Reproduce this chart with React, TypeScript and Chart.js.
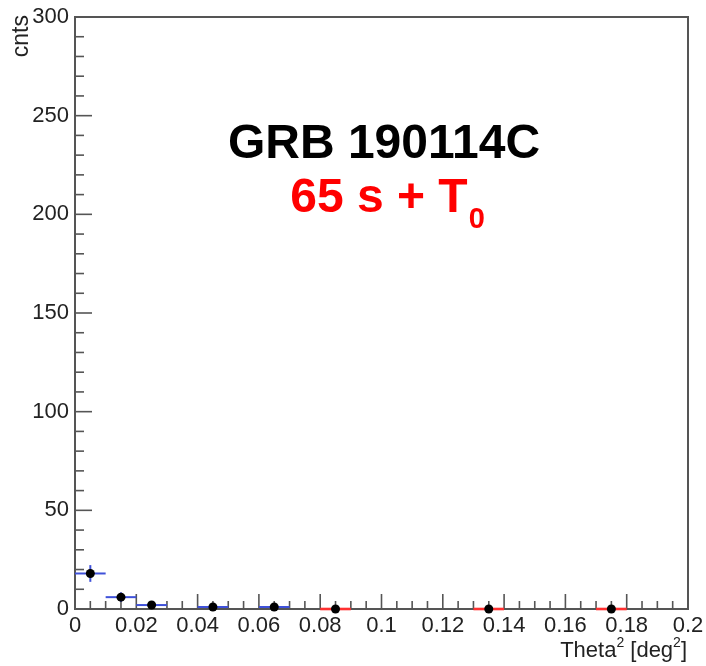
import React, { useEffect, useRef } from "react";
import { Chart, registerables } from "chart.js";

Chart.register(...registerables);

// Theta^2 bins (centres), half bin width 0.005 deg^2
const binCenters = [0.005, 0.015, 0.025, 0.045, 0.065, 0.085, 0.135, 0.175];
const binHalfWidth = 0.005;
const counts = [18, 6, 2, 1, 1, 0, 0, 0];
const countErrors = [4.24, 2.45, 1.41, 1, 1, 0, 0, 0];
const barColors = ["blue", "blue", "blue", "blue", "blue", "red", "red", "red"];

const xTickMajor = 0.02;
const xTickMinor = 0.005;
const yTickMajor = 50;
const yTickMinor = 10;
const xRange = [0, 0.2];
const yRange = [0, 300];

const titleText = "GRB 190114C";
const subtitleText = "65 s + T";
const subtitleSub = "0";
const xTitleMain = "Theta";
const xTitleUnit = " [deg";
const yTitle = "cnts";

const FONT = "'Liberation Sans', Arial, Helvetica, sans-serif";
const COLOR_MAP: Record<string, string> = { blue: "#3f51d9", red: "#ff3030" };

const framePlugin = {
  id: "rootFrame",
  beforeDatasetsDraw(chart: any) {
    const ctx = chart.ctx;
    const xs = chart.scales.x;
    const ys = chart.scales.y;
    const { left, right, top, bottom } = chart.chartArea;
    ctx.save();
    // frame
    ctx.strokeStyle = "#555";
    ctx.lineWidth = 2;
    ctx.strokeRect(left, top, right - left, bottom - top);
    // x ticks
    ctx.lineWidth = 1.6;
    const nx = Math.round((xRange[1] - xRange[0]) / xTickMinor);
    const perMajX = Math.round(xTickMajor / xTickMinor);
    for (let i = 1; i < nx; i++) {
      const px = xs.getPixelForValue(xRange[0] + i * xTickMinor);
      const len = i % perMajX === 0 ? 15 : 8;
      ctx.beginPath();
      ctx.moveTo(px, bottom);
      ctx.lineTo(px, bottom - len);
      ctx.stroke();
    }
    const ny = Math.round((yRange[1] - yRange[0]) / yTickMinor);
    const perMajY = Math.round(yTickMajor / yTickMinor);
    for (let i = 1; i < ny; i++) {
      const py = ys.getPixelForValue(yRange[0] + i * yTickMinor);
      const len = i % perMajY === 0 ? 17 : 9;
      ctx.beginPath();
      ctx.moveTo(left, py);
      ctx.lineTo(left + len, py);
      ctx.stroke();
    }
    // error bars
    for (let i = 0; i < binCenters.length; i++) {
      ctx.strokeStyle = COLOR_MAP[barColors[i]];
      ctx.lineWidth = barColors[i] === "red" ? 2.6 : 2;
      const yPix = ys.getPixelForValue(counts[i]);
      ctx.beginPath();
      ctx.moveTo(xs.getPixelForValue(binCenters[i] - binHalfWidth), yPix);
      ctx.lineTo(xs.getPixelForValue(binCenters[i] + binHalfWidth), yPix);
      ctx.stroke();
      if (countErrors[i] > 0) {
        const xPix = xs.getPixelForValue(binCenters[i]);
        ctx.beginPath();
        ctx.moveTo(xPix, ys.getPixelForValue(counts[i] - countErrors[i]));
        ctx.lineTo(xPix, ys.getPixelForValue(counts[i] + countErrors[i]));
        ctx.stroke();
      }
    }
    ctx.restore();
  },
  afterDraw(chart: any) {
    const ctx = chart.ctx;
    ctx.save();
    // titles
    ctx.fillStyle = "#000";
    ctx.textBaseline = "alphabetic";
    ctx.font = `bold 48px ${FONT}`;
    ctx.textAlign = "center";
    ctx.fillText(titleText, 384, 158);

    ctx.font = `bold 48px ${FONT}`;
    const w1 = ctx.measureText(subtitleText).width;
    ctx.font = `bold 29px ${FONT}`;
    const w2 = ctx.measureText(subtitleSub).width;
    const sx = 387 - (w1 + w2) / 2;
    ctx.fillStyle = "#ff0000";
    ctx.textAlign = "left";
    ctx.font = `bold 48px ${FONT}`;
    ctx.fillText(subtitleText, sx, 212);
    ctx.font = `bold 29px ${FONT}`;
    ctx.fillText(subtitleSub, sx + w1 + 1, 228);

    // x title: Theta^2 [deg^2], right aligned
    ctx.fillStyle = "#222";
    const mainF = `22px ${FONT}`;
    const supF = `14px ${FONT}`;
    ctx.font = mainF;
    const a = ctx.measureText(xTitleMain).width;
    const c = ctx.measureText(xTitleUnit).width;
    const e = ctx.measureText("]").width;
    ctx.font = supF;
    const b = ctx.measureText("2").width;
    const total = a + b + c + b + e;
    let tx = 687 - total;
    const ty = 657;
    ctx.font = mainF;
    ctx.fillText(xTitleMain, tx, ty);
    tx += a;
    ctx.font = supF;
    ctx.fillText("2", tx, ty - 10);
    tx += b;
    ctx.font = mainF;
    ctx.fillText(xTitleUnit, tx, ty);
    tx += c;
    ctx.font = supF;
    ctx.fillText("2", tx, ty - 10);
    tx += b;
    ctx.font = mainF;
    ctx.fillText("]", tx, ty);

    // y title
    ctx.save();
    ctx.translate(28, 15);
    ctx.rotate(-Math.PI / 2);
    ctx.textAlign = "right";
    ctx.font = `23px ${FONT}`;
    ctx.fillText(yTitle, 0, 0);
    ctx.restore();
    ctx.restore();
  },
};

function fmt(v: number) {
  return String(Number(Number(v).toFixed(3)));
}

export default function App() {
  const ref = useRef<HTMLCanvasElement | null>(null);
  useEffect(() => {
    if (!ref.current) return;
    const chart = new Chart(ref.current, {
      type: "scatter",
      data: {
        datasets: [
          {
            data: binCenters.map((x, i) => ({ x, y: counts[i] })),
            backgroundColor: "#000",
            borderColor: "#000",
            pointRadius: 4.5,
            pointHoverRadius: 4.5,
            borderWidth: 0,
            showLine: false,
            clip: false as any,
          },
        ],
      },
      options: {
        responsive: false,
        animation: false,
        events: [],
        layout: { padding: { top: 17, right: 18, left: 0, bottom: 0 } },
        plugins: { legend: { display: false }, tooltip: { enabled: false } },
        scales: {
          x: {
            type: "linear",
            min: xRange[0],
            max: xRange[1],
            grid: { display: false, drawTicks: false },
            border: { display: false },
            afterFit: (s: any) => {
              s.height = 57;
              s.paddingLeft = 0;
              s.paddingRight = 0;
            },
            ticks: {
              stepSize: xTickMajor,
              autoSkip: false,
              maxRotation: 0,
              padding: 4,
              color: "#222",
              font: { family: FONT, size: 22 },
              callback: (v: any) => fmt(v),
            },
          },
          y: {
            type: "linear",
            min: yRange[0],
            max: yRange[1],
            grid: { display: false, drawTicks: false },
            border: { display: false },
            afterFit: (s: any) => {
              s.width = 75;
              s.paddingTop = 0;
              s.paddingBottom = 0;
            },
            ticks: {
              stepSize: yTickMajor,
              autoSkip: false,
              padding: 6,
              color: "#222",
              font: { family: FONT, size: 22 },
              callback: (v: any) => fmt(v),
            },
          },
        },
      },
      plugins: [framePlugin],
    });
    return () => chart.destroy();
  }, []);
  return (
    <div style={{ position: "absolute", left: 0, top: 0, width: 706, height: 666, background: "#fff" }}>
      <canvas ref={ref} width={706} height={666} style={{ display: "block" }} />
    </div>
  );
}
